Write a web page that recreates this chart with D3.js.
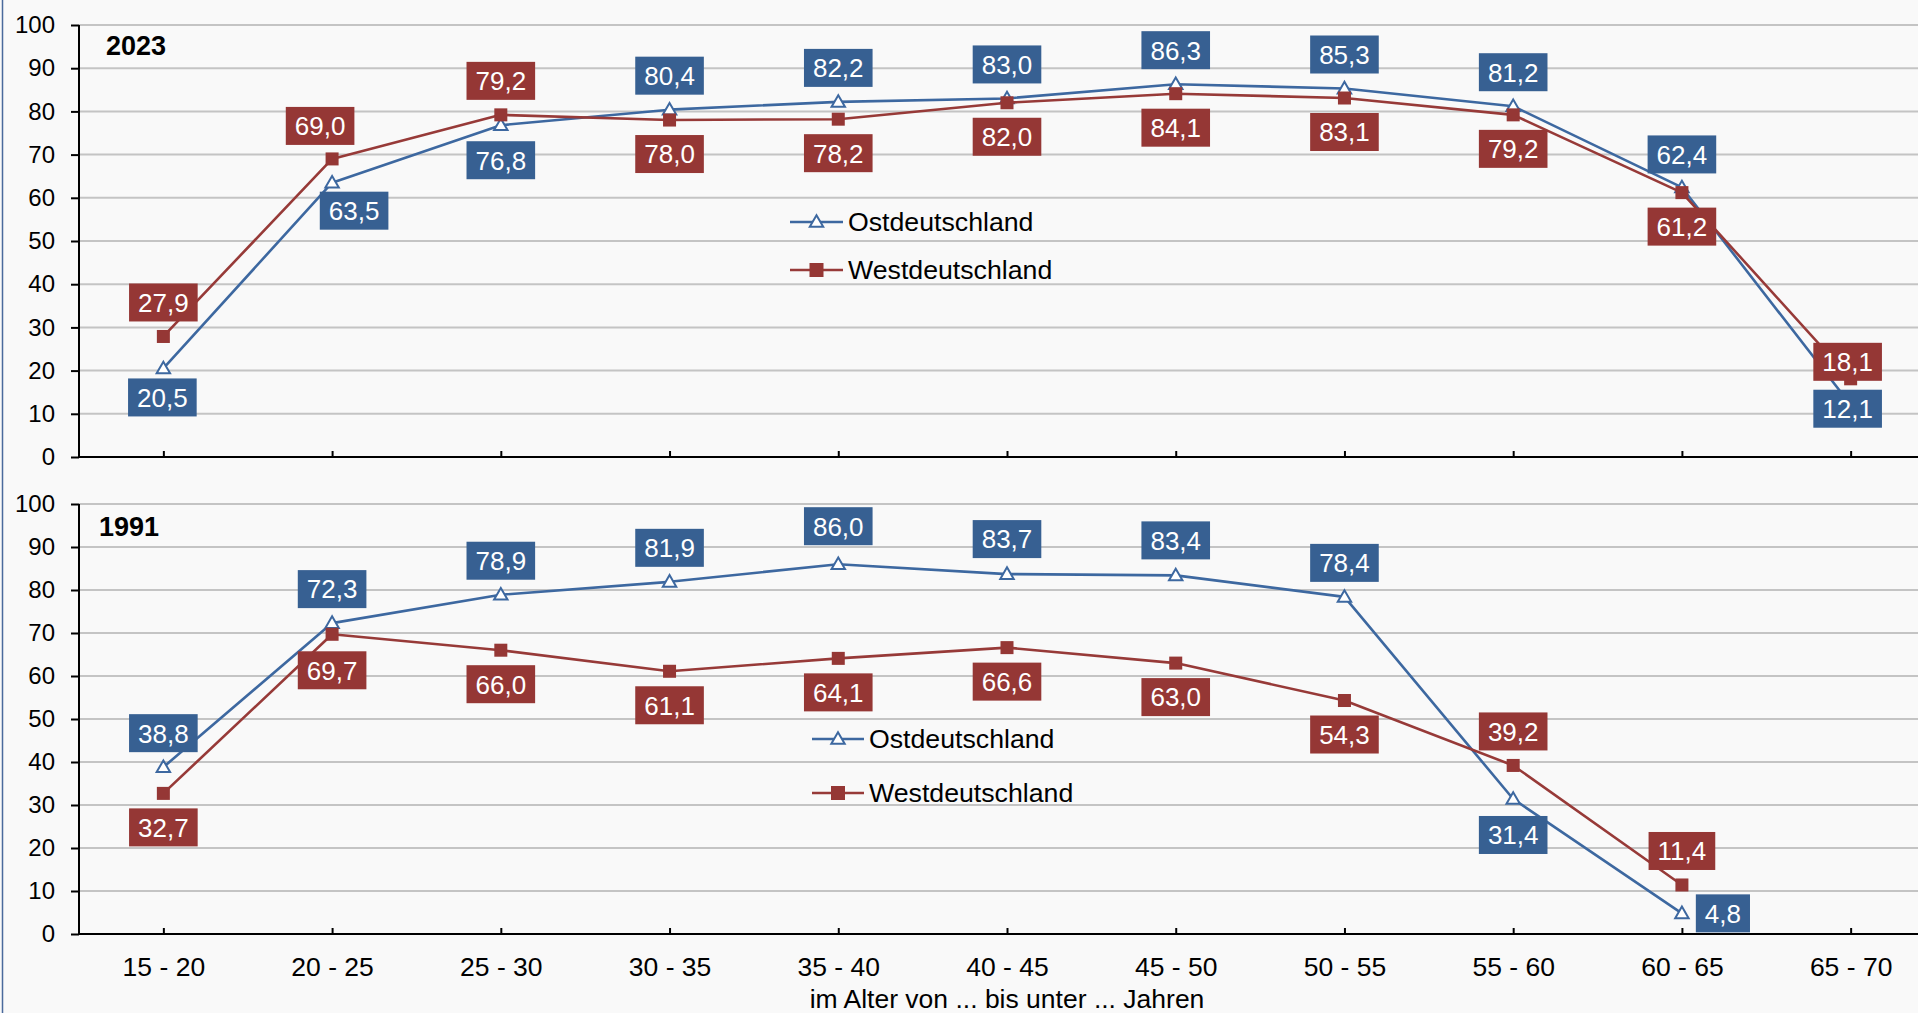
<!DOCTYPE html>
<html lang="de">
<head>
<meta charset="utf-8">
<title>Erwerbstätigenquoten nach Alter – Ost- und Westdeutschland</title>
<script src="https://cdn.jsdelivr.net/npm/d3@7/dist/d3.min.js"></script>
<style>
  html, body { margin: 0; padding: 0; background: #f9f9f9; }
  svg { display: block; font-family: "Liberation Sans", Arial, sans-serif; }
</style>
</head>
<body>
<svg id="chart" width="1918" height="1013"></svg>
<script>
// Altersgruppen (Kategorien der x-Achse)
const ageGroups = ["15 - 20", "20 - 25", "25 - 30", "30 - 35", "35 - 40", "40 - 45",
                   "45 - 50", "50 - 55", "55 - 60", "60 - 65", "65 - 70"];

// Quoten in Prozent, 2023
const ost2023  = [20.5, 63.5, 76.8, 80.4, 82.2, 83.0, 86.3, 85.3, 81.2, 62.4, 12.1];
const west2023 = [27.9, 69.0, 79.2, 78.0, 78.2, 82.0, 84.1, 83.1, 79.2, 61.2, 18.1];

// Quoten in Prozent, 1991 (keine Angabe für 65 - 70)
const ost1991  = [38.8, 72.3, 78.9, 81.9, 86.0, 83.7, 83.4, 78.4, 31.4, 4.8, null];
const west1991 = [32.7, 69.7, 66.0, 61.1, 64.1, 66.6, 63.0, 54.3, 39.2, 11.4, null];

const yTickValues = [0, 10, 20, 30, 40, 50, 60, 70, 80, 90, 100];
const seriesNames = ["Ostdeutschland", "Westdeutschland"];
const panelYears = ["2023", "1991"];
const axisTitle = "im Alter von ... bis unter ... Jahren";

// Verschiebung der Wertelabels gegenüber dem Datenpunkt (Pixel: [dx, dy])
const A = [0, -34], B = [0, 34];
const labelShift2023 = {
  ost:  [[-1, 29], [22, 28], [0, 35], A, A, A, A, A, A, [0, -33], [-3, 4]],
  west: [A, [-12, -33], A, B, B, B, B, B, B, B, [-3, -17]]
};
const labelShift1991 = {
  ost:  [A, A, A, A, [0, -38], [0, -35], [0, -35], A, [0, 36], [41, 0], null],
  west: [B, [0, 36], B, B, B, B, B, B, A, A, null]
};

const colors = {
  ostLine: "#3d68a0", ostBox: "#376092",
  westLine: "#973a38", westBox: "#953735",
  grid: "#c4c4c4", axis: "#000"
};

const svg = d3.select("#chart");
const W = 1918;

// linker Rahmen
svg.append("line").attr("x1", 2.5).attr("x2", 2.5).attr("y1", 0).attr("y2", 1013)
  .attr("stroke", "#4a6a9c").attr("stroke-width", 1.5);

const x = d3.scalePoint().domain(ageGroups).range([79, 1935]).padding(0.5);
const fmt = v => d3.format(".1f")(v).replace(".", ",");

const panels = [
  { year: panelYears[0], ost: ost2023, west: west2023, shift: labelShift2023,
    top: 25, bottom: 457, showLabels: false,
    titlePos: [106, 55], legend: { x1: 790, x2: 843, tx: 848, y: [222, 270] } },
  { year: panelYears[1], ost: ost1991, west: west1991, shift: labelShift1991,
    top: 504, bottom: 934, showLabels: true,
    titlePos: [99, 536], legend: { x1: 812, x2: 864, tx: 869, y: [739, 793] } }
];

const triangle = d3.symbol().type(d3.symbolTriangle).size(78);

panels.forEach(p => {
  const y = d3.scaleLinear().domain([0, 100]).range([p.bottom, p.top]);
  const g = svg.append("g");

  // Gitternetzlinien
  g.append("g").selectAll("line").data(yTickValues.filter(v => v > 0)).join("line")
    .attr("x1", 79).attr("x2", W).attr("y1", d => y(d)).attr("y2", d => y(d))
    .attr("stroke", colors.grid).attr("stroke-width", 2);

  // y-Achse
  const yAxis = g.append("g").attr("transform", "translate(79,0)")
    .call(d3.axisLeft(y).tickValues(yTickValues).tickSize(8).tickPadding(16));
  yAxis.select(".domain").attr("stroke-width", 2).attr("d", `M0,${p.top}V${p.bottom}`);
  yAxis.selectAll(".tick line").attr("stroke-width", 2);
  yAxis.selectAll(".tick text").attr("font-size", 24).attr("fill", "#000")
    .attr("font-family", "Liberation Sans, Arial, sans-serif");

  // x-Achse
  const xAxis = g.append("g").attr("transform", `translate(0,${p.bottom})`)
    .call(d3.axisBottom(x).tickSize(-6).tickPadding(23));
  xAxis.select(".domain").attr("stroke-width", 2).attr("d", `M79,0H${W}`);
  xAxis.selectAll(".tick line").attr("stroke-width", 2);
  xAxis.selectAll(".tick text").attr("font-size", 26.5).attr("fill", "#000")
    .attr("font-family", "Liberation Sans, Arial, sans-serif")
    .style("display", p.showLabels ? null : "none");

  // Jahr
  g.append("text").attr("x", p.titlePos[0]).attr("y", p.titlePos[1])
    .attr("font-size", 27).attr("font-weight", "bold").attr("fill", "#000").text(p.year);

  const line = d3.line()
    .defined(d => d.v != null)
    .x(d => x(d.k)).y(d => y(d.v));

  const series = [
    { key: "ost", values: p.ost, line: colors.ostLine, box: colors.ostBox },
    { key: "west", values: p.west, line: colors.westLine, box: colors.westBox }
  ];

  series.forEach(s => {
    const pts = s.values.map((v, i) => ({ k: ageGroups[i], v, i }));
    g.append("path").datum(pts).attr("d", line)
      .attr("fill", "none").attr("stroke", s.line).attr("stroke-width", 2.6)
      .attr("stroke-linejoin", "round");
    const valid = pts.filter(d => d.v != null);
    if (s.key === "ost") {
      g.append("g").selectAll("path").data(valid).join("path")
        .attr("d", triangle)
        .attr("transform", d => `translate(${x(d.k)},${y(d.v) + 1})`)
        .attr("fill", "#fff").attr("stroke", s.line).attr("stroke-width", 2);
    } else {
      g.append("g").selectAll("rect").data(valid).join("rect")
        .attr("x", d => x(d.k) - 6.5).attr("y", d => y(d.v) - 6.5)
        .attr("width", 13).attr("height", 13).attr("fill", s.box);
    }
  });

  // Wertelabels
  series.forEach(s => {
    s.values.forEach((v, i) => {
      if (v == null) return;
      const sh = p.shift[s.key][i];
      const cx = x(ageGroups[i]) + sh[0];
      const cy = y(v) + sh[1];
      const lg = g.append("g");
      const rect = lg.append("rect").attr("fill", s.box);
      const t = lg.append("text").attr("x", cx).attr("y", cy)
        .attr("text-anchor", "middle").attr("dy", "0.36em")
        .attr("font-size", 26).attr("fill", "#fff").text(fmt(v));
      const w = t.node().getComputedTextLength() + 18;
      rect.attr("x", cx - w / 2).attr("y", cy - 19).attr("width", w).attr("height", 38);
    });
  });

  // Legende
  const L = p.legend;
  series.forEach((s, j) => {
    const ly = L.y[j];
    g.append("line").attr("x1", L.x1).attr("x2", L.x2).attr("y1", ly).attr("y2", ly)
      .attr("stroke", s.line).attr("stroke-width", 2.6);
    const mx = (L.x1 + L.x2) / 2;
    if (s.key === "ost") {
      g.append("path").attr("d", triangle).attr("transform", `translate(${mx},${ly + 1})`)
        .attr("fill", "#fff").attr("stroke", s.line).attr("stroke-width", 2);
    } else {
      g.append("rect").attr("x", mx - 7).attr("y", ly - 7).attr("width", 14).attr("height", 14)
        .attr("fill", s.box);
    }
    g.append("text").attr("x", L.tx).attr("y", ly).attr("dy", "0.35em")
      .attr("font-size", 26.7).attr("fill", "#000").text(seriesNames[j]);
  });
});

// Achsentitel
svg.append("text").attr("x", x.range()[0] + (x.range()[1] - x.range()[0]) / 2).attr("y", 1008)
  .attr("text-anchor", "middle").attr("font-size", 26.5).attr("fill", "#000").text(axisTitle);
</script>
</body>
</html>
